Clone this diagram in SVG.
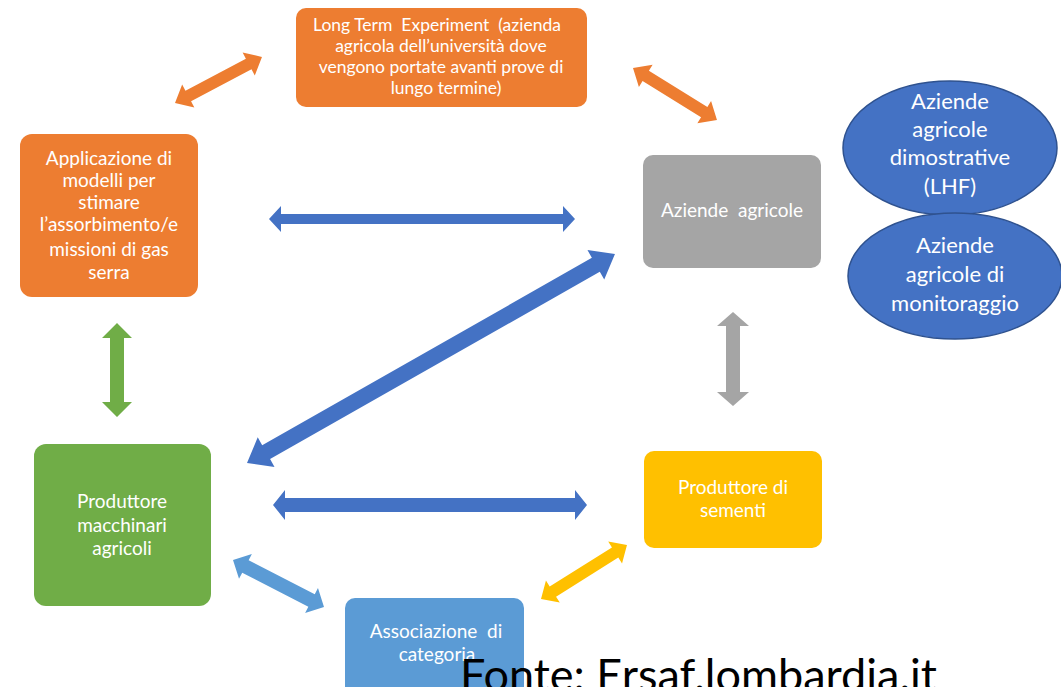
<svg xmlns="http://www.w3.org/2000/svg" width="1061" height="687" viewBox="0 0 1061 687">
<style>
.t{font-family:Lato,"Liberation Sans",Arial,sans-serif;fill:#ffffff;text-anchor:middle;white-space:pre}
.s15{font-size:17.5px}
.s16{font-size:19px}
.s18{font-size:22px}
.orange{fill:#ED7D31}
.blue{fill:#4472C4}
.green{fill:#70AD47}
.gray{fill:#A5A5A5}
.yellow{fill:#FFC000}
.lblue{fill:#5B9BD5}
.ell{fill:#4472C4;stroke:#2F528F;stroke-width:1.5}
</style>
<rect width="1061" height="687" fill="#ffffff"/>
<g id="connectors">
  <g transform="translate(175,103) rotate(-27.9)"><polygon class="orange" points="0,0 15,-13 15,-6 83.4,-6 83.4,-13 98.4,0 83.4,13 83.4,6 15,6 15,13"/></g>
  <g transform="translate(633,68) rotate(31.8)"><polygon class="orange" points="0,0 15,-13 15,-6 83.8,-6 83.8,-13 98.8,0 83.8,13 83.8,6 15,6 15,13"/></g>
  <g transform="translate(269,219)"><polygon class="blue" points="0,0 12,-13 12,-5 294,-5 294,-13 306,0 294,13 294,5 12,5 12,13"/></g>
  <g transform="translate(247,463) rotate(-29.6)"><polygon class="blue" points="0,0 22,-17 22,-8 401.2,-8 401.2,-17 423.2,0 401.2,17 401.2,8 22,8 22,17"/></g>
  <g transform="translate(117,323) rotate(90)"><polygon class="green" points="0,0 15,-15 15,-7 79,-7 79,-15 94,0 79,15 79,7 15,7 15,15"/></g>
  <g transform="translate(733,312) rotate(90)"><polygon class="gray" points="0,0 14,-16 14,-7 80,-7 80,-16 94,0 80,16 80,7 14,7 14,16"/></g>
  <g transform="translate(273,505)"><polygon class="blue" points="0,0 12,-15 12,-7 302,-7 302,-15 314,0 302,15 302,7 12,7 12,15"/></g>
  <g transform="translate(233,560) rotate(27.3)"><polygon class="lblue" points="0,0 14,-14 14,-7 88.4,-7 88.4,-14 102.4,0 88.4,14 88.4,7 14,7 14,14"/></g>
  <g transform="translate(541,599) rotate(-32.1)"><polygon class="yellow" points="0,0 14,-13 14,-6 87.5,-6 87.5,-13 101.5,0 87.5,13 87.5,6 14,6 14,13"/></g>
</g>
<g id="lte">
  <rect class="orange" x="296" y="8" width="291" height="99" rx="10"/>
  <text class="t s15" xml:space="preserve"><tspan x="437" y="31">Long Term  Experiment  (azienda</tspan><tspan x="441" y="52">agricola dell’università dove</tspan><tspan x="441" y="73">vengono portate avanti prove di</tspan><tspan x="446" y="94">lungo termine)</tspan></text>
</g>
<g id="applicazione">
  <rect class="orange" x="20" y="134" width="178" height="163" rx="12"/>
  <text class="t s16"><tspan x="109" y="165">Applicazione di</tspan><tspan x="109" y="187">modelli per</tspan><tspan x="109" y="209">stimare</tspan><tspan x="109" y="231">l’assorbimento/e</tspan><tspan x="109" y="256">missioni di gas</tspan><tspan x="109" y="279">serra</tspan></text>
</g>
<g id="aziende">
  <rect class="gray" x="643" y="155" width="178" height="113" rx="10"/>
  <text class="t s16" x="732" y="217" xml:space="preserve">Aziende  agricole</text>
</g>
<g id="dimostrative">
  <ellipse class="ell" cx="950" cy="148" rx="107" ry="67"/>
  <text class="t s18"><tspan x="950" y="109">Aziende</tspan><tspan x="950" y="137">agricole</tspan><tspan x="950" y="165">dimostrative</tspan><tspan x="950" y="194">(LHF)</tspan></text>
</g>
<g id="monitoraggio">
  <ellipse class="ell" cx="955" cy="276" rx="107" ry="63"/>
  <text class="t s18"><tspan x="955" y="253">Aziende</tspan><tspan x="955" y="282">agricole di</tspan><tspan x="955" y="311">monitoraggio</tspan></text>
</g>
<g id="macchinari">
  <rect class="green" x="34" y="444" width="177" height="162" rx="12"/>
  <text class="t s16"><tspan x="122" y="508">Produttore</tspan><tspan x="122" y="532">macchinari</tspan><tspan x="122" y="555">agricoli</tspan></text>
</g>
<g id="sementi">
  <rect class="yellow" x="644" y="451" width="178" height="97" rx="10"/>
  <text class="t s16"><tspan x="733" y="494">Produttore di</tspan><tspan x="733" y="517">sementi</tspan></text>
</g>
<g id="associazione">
  <rect class="lblue" x="345" y="598" width="179" height="100" rx="10"/>
  <text class="t s16" xml:space="preserve"><tspan x="436" y="638">Associazione  di</tspan><tspan x="437" y="661">categoria</tspan></text>
</g>
<text x="460" y="691" font-family="Lato, Liberation Sans, Arial, sans-serif" font-size="45" fill="#000000">Fonte: Ersaf.lombardia.it</text>
</svg>
